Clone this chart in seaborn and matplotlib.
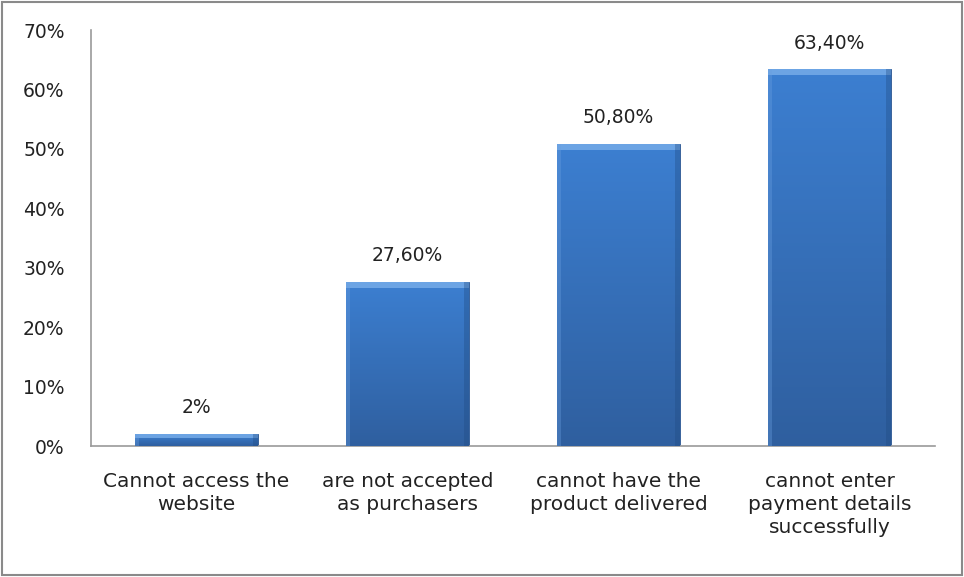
import numpy as np
import pandas as pd
import seaborn as sns
import matplotlib as mpl
import matplotlib.pyplot as plt
from matplotlib.patches import Rectangle

categories = ['Cannot access the\nwebsite',
              'are not accepted\nas purchasers',
              'cannot have the\nproduct delivered',
              'cannot enter\npayment details\nsuccessfully']
values = [2.0, 27.6, 50.8, 63.4]
value_labels = ['2%', '27,60%', '50,80%', '63,40%']
y_ticks = [0, 10, 20, 30, 40, 50, 60, 70]

sns.set_style('white')
plt.rcParams['font.family'] = ['DejaVu Sans']
FS = 13.5

df = pd.DataFrame({'category': categories, 'value': values})

fig = plt.figure(figsize=(9.64, 5.77), dpi=100)
ax = fig.add_axes([91 / 964, 1 - 446 / 577, 844 / 964, 416 / 577])

sns.barplot(data=df, x='category', y='value', color='#3a77c6',
            width=0.58, saturation=1, ax=ax, zorder=2)

# gradient + bevel on each bar
grad = np.linspace(0, 1, 256).reshape(-1, 1)
cmap = mpl.colors.LinearSegmentedColormap.from_list('', ['#2f5f9f', '#3c7fd1'])
for p in ax.patches:
    x0, y0 = p.get_x(), p.get_y()
    w, h = p.get_width(), p.get_height()
    p.set_edgecolor('#2a5590')
    p.set_linewidth(0.6)
    im = ax.imshow(grad, extent=[x0, x0 + w, y0, y0 + h], aspect='auto',
                   cmap=cmap, origin='lower', zorder=3)
    im.set_clip_path(p)
    # light top bevel
    bh = min(1.0, h * 0.3)
    ax.add_patch(Rectangle((x0, y0 + h - bh), w, bh, facecolor='#79aeea',
                           edgecolor='none', alpha=0.8, zorder=4))
    # side shading
    ax.add_patch(Rectangle((x0 + w * 0.96, y0), w * 0.04, h, facecolor='#1f4a80',
                           edgecolor='none', alpha=0.35, zorder=4))
    ax.add_patch(Rectangle((x0, y0), w * 0.03, h, facecolor='#6a9fe0',
                           edgecolor='none', alpha=0.35, zorder=4))

for i, (v, lab) in enumerate(zip(values, value_labels)):
    ax.text(i, v + 2.8, lab, ha='center', va='bottom', fontsize=FS, color='#222222')

ax.set_xlim(-0.5, 3.5)
ax.set_ylim(0, 70)
ax.set_yticks(y_ticks)
ax.set_yticklabels([f'{t}%' for t in y_ticks])
ax.set_xlabel('')
ax.set_ylabel('')
ax.tick_params(axis='y', length=0, pad=19, labelsize=FS, labelcolor='#222222')
ax.tick_params(axis='x', length=0, pad=19, labelsize=14.5, labelcolor='#222222')
for lab in ax.get_xticklabels():
    lab.set_linespacing(1.27)

sns.despine(ax=ax, top=True, right=True)
for side in ['left', 'bottom']:
    ax.spines[side].set_color('#9a9a9a')
    ax.spines[side].set_linewidth(1.2)

# outer frame
fig.patches.append(Rectangle((0.002, 0.003), 0.996, 0.994, transform=fig.transFigure,
                             fill=False, edgecolor='#8a8a8a', linewidth=1.5))

fig.savefig('out.png', dpi=100, facecolor='white')
